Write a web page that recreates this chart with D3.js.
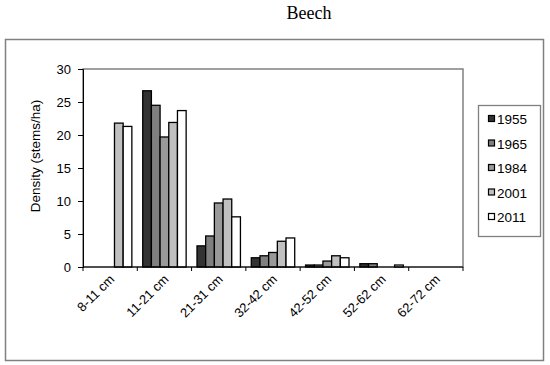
<!DOCTYPE html>
<html>
<head>
<meta charset="utf-8">
<script src="https://cdn.jsdelivr.net/npm/d3@7"></script>
<style>
  body { margin: 0; background: #fff; }
  svg text { font-family: "Liberation Sans", Arial, sans-serif; fill: #000; }
</style>
</head>
<body>
<div class="canvas"></div>
<script>
const categories = ['8-11 cm', '11-21 cm', '21-31 cm', '32-42 cm', '42-52 cm', '52-62 cm', '62-72 cm'];
const years = ['1955', '1965', '1984', '2001', '2011'];
const v1955 = [0, 26.7, 3.2, 1.4, 0.3, 0.5, 0];
const v1965 = [0, 24.5, 4.7, 1.7, 0.3, 0.5, 0];
const v1984 = [0, 19.7, 9.7, 2.2, 0.9, 0, 0];
const v2001 = [21.8, 21.9, 10.3, 3.9, 1.7, 0, 0];
const v2011 = [21.3, 23.7, 7.6, 4.4, 1.4, 0.3, 0];
const yTicks = [0, 5, 10, 15, 20, 25, 30];

const series = [v1955, v1965, v1984, v2001, v2011];
const colors = ['#333333', '#808080', '#999999', '#c0c0c0', '#ffffff'];

const width = 550, height = 365;
const plotL = 83, plotR = 463, plotT = 69, plotB = 267;

const svg = d3.select('.canvas')
    .append('svg')
    .attr('width', width)
    .attr('height', height)
    ;

//Title
svg.append('text')
    .attr('x', 309)
    .attr('y', 19)
    .attr('text-anchor', 'middle')
    .style('font-family', '"Liberation Serif", "DejaVu Serif", serif')
    .style('font-size', '18px')
    .text('Beech');

//Chart border
svg.append('rect')
    .attr('x', 5.5).attr('y', 39.5)
    .attr('width', 538).attr('height', 321)
    .attr('fill', 'none')
    .attr('stroke', '#808080')
    .attr('stroke-width', 1.5);

//Plot area border
svg.append('rect')
    .attr('x', plotL).attr('y', plotT)
    .attr('width', plotR - plotL).attr('height', plotB - plotT)
    .attr('fill', 'none')
    .attr('stroke', '#808080')
    .attr('stroke-width', 1.5);

const xScale = d3.scaleBand()
    .domain(categories)
    .range([plotL, plotR])
    .paddingInner(0.2)
    .paddingOuter(0.1)
    ;
const xOuter = d3.scaleBand().domain(categories).range([plotL, plotR]);

const yScale = d3.scaleLinear()
    .domain([0, 30])
    .range([plotB, plotT])
    ;

const xSub = d3.scaleBand()
    .domain(years)
    .range([0, xScale.bandwidth()])
    ;

//Bars
series.forEach((vals, i) => {
    svg.append('g')
        .selectAll('rect')
        .data(vals.map((v, j) => ({ cat: categories[j], v: v })).filter(d => d.v > 0))
        .enter()
        .append('rect')
        .attr('x', d => xScale(d.cat) + xSub(years[i]))
        .attr('y', d => yScale(d.v))
        .attr('width', xSub.bandwidth())
        .attr('height', d => yScale(0) - yScale(d.v))
        .attr('fill', colors[i])
        .attr('stroke', '#000')
        .attr('stroke-width', 1.3);
});

//y-axis
const yAxis = d3.axisLeft(yScale).tickValues(yTicks).tickSize(5).tickPadding(7);
svg.append('g')
    .attr('transform', `translate(${plotL}, 0)`)
    .call(yAxis)
    .call(g => g.selectAll('text').style('font-size', '13px'))
    .call(g => g.selectAll('line, path').attr('stroke', '#000'))
    ;

//x-axis with ticks at category boundaries
svg.append('g')
    .attr('transform', `translate(0, ${plotB})`)
    .call(g => g.append('line')
        .attr('x1', plotL).attr('x2', plotR)
        .attr('stroke', '#000'))
    .call(g => g.selectAll('.tk')
        .data(categories.concat(['end']))
        .enter()
        .append('line')
        .attr('x1', (d, i) => i < categories.length ? xOuter(d) : plotR)
        .attr('x2', (d, i) => i < categories.length ? xOuter(d) : plotR)
        .attr('y1', 0).attr('y2', 4)
        .attr('stroke', '#000'))
    .call(g => g.selectAll('.lbl')
        .data(categories)
        .enter()
        .append('text')
        .attr('text-anchor', 'end')
        .style('font-size', '13px')
        .attr('transform', d => `translate(${xOuter(d) + xOuter.bandwidth() / 2 + 5}, 13) rotate(-45)`)
        .text(d => d))
    ;

//y-axis title
svg.append('text')
    .attr('transform', 'translate(40, 156) rotate(-90)')
    .attr('text-anchor', 'middle')
    .style('font-size', '13.5px')
    .text('Density (stems/ha)');

//Legend
const legend = svg.append('g').attr('id', 'legend');
legend.append('rect')
    .attr('x', 478.5).attr('y', 105.5)
    .attr('width', 62).attr('height', 131)
    .attr('fill', '#fff')
    .attr('stroke', '#808080')
    .attr('stroke-width', 1.3);
years.forEach((y, i) => {
    const cy = 119 + i * 24.5;
    legend.append('rect')
        .attr('x', 488.5).attr('y', cy - 3.5)
        .attr('width', 6).attr('height', 6)
        .attr('fill', colors[i])
        .attr('stroke', '#000')
        .attr('stroke-width', 1.2);
    legend.append('text')
        .attr('x', 497)
        .attr('y', cy + 5)
        .style('font-size', '13.5px')
        .text(y);
});
</script>
</body>
</html>
